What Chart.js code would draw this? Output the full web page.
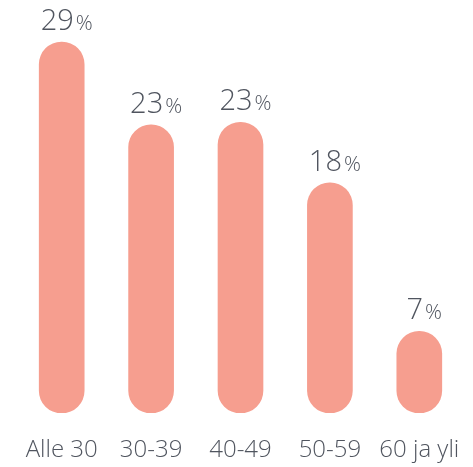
<!DOCTYPE html>
<html>
<head>
<meta charset="utf-8">
<script src="https://cdn.jsdelivr.net/npm/chart.js@4"></script>
<style>
  html, body { margin: 0; padding: 0; background: #fff; overflow: hidden; }
  canvas { display: block; }
</style>
</head>
<body>
<canvas id="chart" width="473" height="467"></canvas>
<script>
const ageGroups = ['Alle 30', '30-39', '40-49', '50-59', '60 ja yli'];
const shares = [29, 22.7, 22.9, 18.3, 7];

const barColor = '#F69E8F';
const textColor = '#50555F';
const fontFamily = '"Open Sans", sans-serif';
const axisFloor = 0.8;

// numero isolla, prosenttimerkki pienemmällä
const valueLabels = {
    id: 'valueLabels',
    afterDatasetsDraw(chart) {
        const ctx = chart.ctx;
        const meta = chart.getDatasetMeta(0);
        ctx.save();
        ctx.fillStyle = textColor;
        ctx.textBaseline = 'alphabetic';
        ctx.textAlign = 'left';
        meta.data.forEach((bar, i) => {
            const num = String(Math.round(shares[i]));
            ctx.font = '300 29px ' + fontFamily;
            const wNum = ctx.measureText(num).width;
            ctx.font = '300 21px ' + fontFamily;
            const wPct = ctx.measureText('%').width;
            const gap = 2;
            const x0 = bar.x + 5 - (wNum + gap + wPct) / 2;
            const y = bar.y - 12;
            ctx.font = '300 29px ' + fontFamily;
            ctx.fillText(num, x0, y);
            ctx.font = '300 21px ' + fontFamily;
            ctx.fillText('%', x0 + wNum + gap, y);
        });
        ctx.restore();
    }
};

new Chart(document.getElementById('chart'), {
    type: 'bar',
    data: {
        labels: ageGroups,
        datasets: [{
            data: shares,
            base: axisFloor,
            backgroundColor: barColor,
            borderRadius: 23,
            borderSkipped: false,
            barThickness: 45
        }]
    },
    options: {
        responsive: false,
        animation: false,
        layout: { padding: { left: 17, right: 9, top: 0, bottom: 0 } },
        plugins: {
            legend: { display: false },
            tooltip: { enabled: false }
        },
        scales: {
            x: {
                grid: { display: false, drawTicks: false },
                border: { display: false },
                ticks: {
                    padding: 23,
                    maxRotation: 0,
                    minRotation: 0,
                    autoSkip: false,
                    color: textColor,
                    font: { family: fontFamily, size: 24, weight: 300 }
                },
                afterFit(scale) {
                    scale.height = 54;
                    scale.paddingLeft = 0;
                    scale.paddingRight = 0;
                }
            },
            y: {
                display: false,
                beginAtZero: false,
                min: axisFloor,
                max: 32.2
            }
        }
    },
    plugins: [valueLabels]
});
</script>
</body>
</html>
